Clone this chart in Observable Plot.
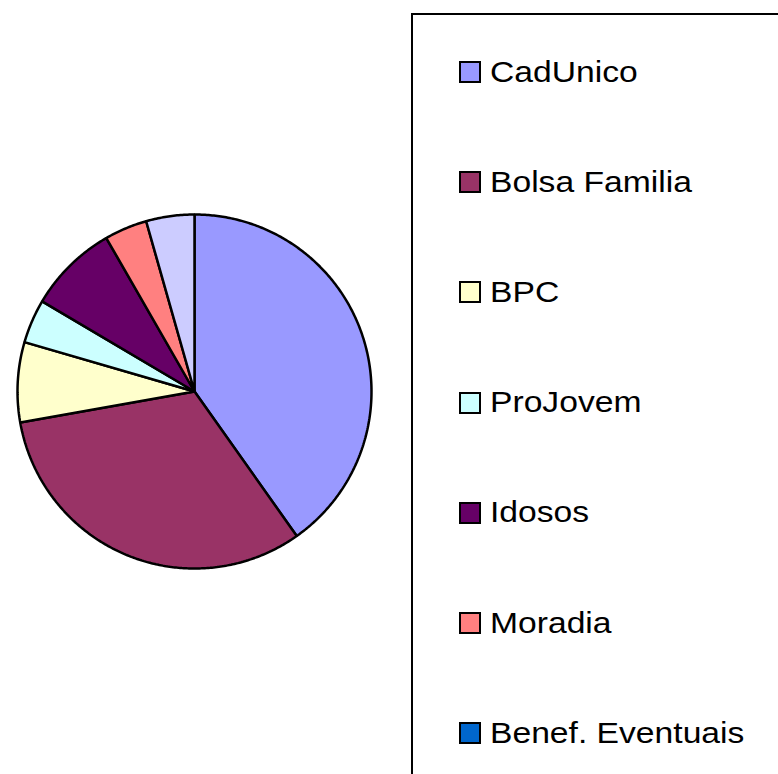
<!DOCTYPE html>
<html>
<head>
<meta charset="utf-8">
<script src="https://cdn.jsdelivr.net/npm/d3@7"></script>
<script src="https://cdn.jsdelivr.net/npm/@observablehq/plot@0.6"></script>
<style>
  html, body { margin: 0; padding: 0; background: #fff; overflow: hidden; width: 778px; height: 774px; }
  #wrap { position: relative; width: 778px; height: 774px; overflow: hidden; }
  #chart { position: absolute; left: 0; top: 0; }
  #legend { position: absolute; left: 411px; top: 13px; width: 420px; height: 900px; border: 2px solid #000; box-sizing: border-box; background: #fff; }
  .item { position: absolute; left: 46px; display: flex; align-items: center; height: 34px; font-family: "Liberation Sans", Arial, sans-serif; font-size: 29px; color: #000; white-space: nowrap; }
  .sw { width: 18px; height: 18px; border: 2px solid #000; margin-right: 9px; flex: none; }
  .tx { display: inline-block; transform: scaleX(1.16); transform-origin: 0 50%; }
</style>
</head>
<body>
<div id="wrap">
  <div id="chart"></div>
  <div id="legend"></div>
</div>
<script>
const categories = ["CadUnico", "Bolsa Familia", "BPC", "ProJovem", "Idosos", "Moradia", "Benef. Eventuais", "Outros"];
const values = [40.2, 32.0, 7.3, 4.0, 8.2, 3.9, 0, 4.4];
const colors = ["#9999FF", "#993366", "#FFFFCC", "#CCFFFF", "#660066", "#FF8080", "#0066CC", "#CCCCFF"];
const visibleLegendEntries = 7; // the reference's legend box is cut off after the 7th entry

const total = d3.sum(values);
const pts = [];
let acc = 0;
categories.forEach((cat, i) => {
  const a0 = acc / total * 2 * Math.PI;
  acc += values[i];
  const a1 = acc / total * 2 * Math.PI;
  if (values[i] <= 0) return;
  pts.push({cat, x: 0, y: 0});
  const n = Math.max(2, Math.ceil((a1 - a0) / 0.01));
  for (let k = 0; k <= n; k++) {
    const a = a0 + (a1 - a0) * k / n;
    pts.push({cat, x: Math.sin(a), y: Math.cos(a)});
  }
});

const W = 400, H = 774;
const cx = 194, cy = 391, r = 177;
const chart = Plot.plot({
  width: W,
  height: H,
  marginLeft: cx - r,
  marginRight: W - (cx + r),
  marginTop: cy - r,
  marginBottom: H - (cy + r),
  x: {domain: [-1, 1], axis: null},
  y: {domain: [-1, 1], axis: null},
  color: {domain: categories, range: colors},
  style: {background: "transparent", overflow: "visible"},
  marks: [
    Plot.line(pts, {x: "x", y: "y", z: "cat", fill: "cat", stroke: "#000", strokeWidth: 2.5, curve: "linear-closed", strokeLinejoin: "miter"})
  ]
});
document.getElementById("chart").appendChild(chart);

const legend = document.getElementById("legend");
categories.slice(0, visibleLegendEntries).forEach((cat, i) => {
  const it = document.createElement("div");
  it.className = "item";
  it.style.top = (40 + i * 110.2) + "px";
  const sw = document.createElement("div");
  sw.className = "sw";
  sw.style.background = colors[i];
  const tx = document.createElement("span");
  tx.className = "tx";
  tx.textContent = cat;
  it.appendChild(sw);
  it.appendChild(tx);
  legend.appendChild(it);
});
</script>
</body>
</html>
